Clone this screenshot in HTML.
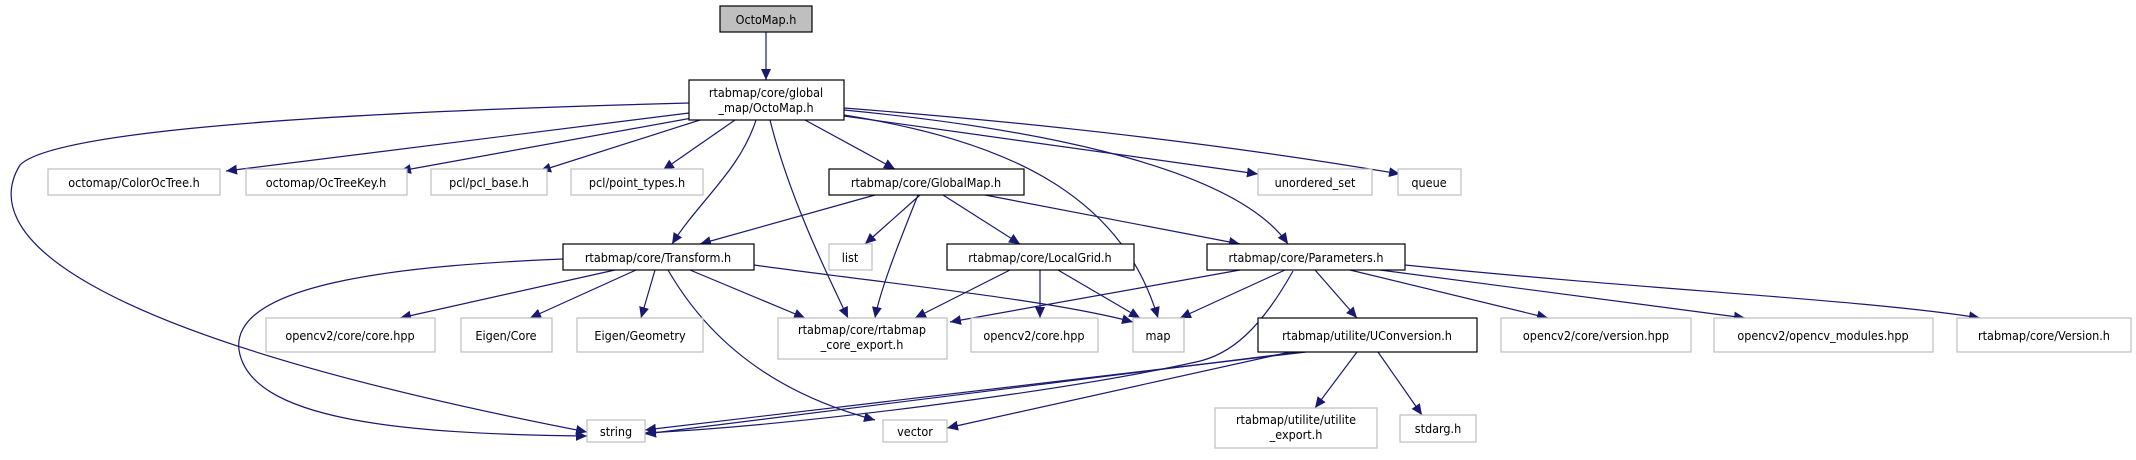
<!DOCTYPE html>
<html><head><meta charset="utf-8"><style>
html,body{margin:0;padding:0;background:#fff}
svg text{font-family:"DejaVu Sans Condensed","DejaVu Sans","Liberation Sans",sans-serif;font-size:12.5px;fill:#000;text-anchor:middle}
</style></head><body>
<svg width="2136" height="455" viewBox="0 0 2136 455" xmlns="http://www.w3.org/2000/svg">
<defs><marker id="a" markerWidth="12" markerHeight="10" refX="11" refY="5" orient="auto" markerUnits="userSpaceOnUse"><path d="M0,0 L11,5 L0,10 z" fill="#191970"/></marker></defs>
<g fill="none" stroke="#191970" stroke-width="1.2" marker-end="url(#a)">
<path d="M766,32 L766,80"/>
<path d="M689,103 C420,110 60,125 20,165 C-20,230 60,330 587,432"/>
<path d="M689,113 L226,171"/>
<path d="M692,118 L400,171"/>
<path d="M700,120 L540,171"/>
<path d="M735,120 L663,170"/>
<path d="M756,120 C740,170 700,200 672,244"/>
<path d="M770,120 C790,200 830,280 848,318"/>
<path d="M805,120 L895,169"/>
<path d="M844,115 C1000,140 1120,190 1158,318"/>
<path d="M844,116 L1258,174"/>
<path d="M844,108 C1000,120 1200,140 1400,174"/>
<path d="M844,110 C1000,125 1230,160 1288,244"/>
<path d="M875,195 L700,244"/>
<path d="M920,195 L865,244"/>
<path d="M918,195 C900,240 880,290 875,318"/>
<path d="M943,195 L1020,244"/>
<path d="M985,195 L1240,244"/>
<path d="M563,259 C420,265 230,280 239,350 C250,420 400,434 587,436"/>
<path d="M615,270 L400,318"/>
<path d="M636,270 L530,318"/>
<path d="M655,270 L641,318"/>
<path d="M668,270 C720,360 800,400 875,420"/>
<path d="M690,270 L805,318"/>
<path d="M754,265 C900,285 1050,300 1133,322"/>
<path d="M1010,270 L915,318"/>
<path d="M1040,270 L1040,318"/>
<path d="M1058,270 L1140,318"/>
<path d="M1240,270 L950,322"/>
<path d="M1285,270 L1180,318"/>
<path d="M1293,271 C1260,330 1230,355 1196,362 C1060,392 800,425 645,433"/>
<path d="M1315,270 L1357,318"/>
<path d="M1350,270 L1548,318"/>
<path d="M1380,270 L1745,318"/>
<path d="M1405,265 C1650,290 1870,300 1980,318"/>
<path d="M1306,352 L645,430"/>
<path d="M1300,352 L645,434"/>
<path d="M1290,352 L947,428"/>
<path d="M1357,352 L1315,408"/>
<path d="M1378,352 L1422,415"/>
</g>
<g stroke-width="1.2">
<rect x="720" y="6" width="92" height="26" fill="#bfbfbf" stroke="#000"/>
<rect x="689" y="80" width="155" height="40" fill="#fff" stroke="#000"/>
<rect x="829" y="169" width="195" height="26" fill="#fff" stroke="#000"/>
<rect x="563" y="244" width="191" height="26" fill="#fff" stroke="#000"/>
<rect x="947" y="244" width="187" height="26" fill="#fff" stroke="#000"/>
<rect x="1207" y="244" width="198" height="26" fill="#fff" stroke="#000"/>
<rect x="1258" y="318" width="219" height="34" fill="#fff" stroke="#000"/>
</g>
<g fill="#fff" stroke="#bfbfbf" stroke-width="1.2">
<rect x="48" y="169" width="172" height="26"/>
<rect x="246" y="169" width="161" height="26"/>
<rect x="431" y="169" width="116" height="26"/>
<rect x="571" y="169" width="132" height="26"/>
<rect x="1258" y="169" width="114" height="26"/>
<rect x="1398" y="169" width="63" height="26"/>
<rect x="829" y="244" width="43" height="26"/>
<rect x="266" y="318" width="169" height="34"/>
<rect x="461" y="318" width="91" height="34"/>
<rect x="577" y="318" width="126" height="34"/>
<rect x="778" y="318" width="169" height="41"/>
<rect x="971" y="318" width="127" height="34"/>
<rect x="1133" y="318" width="51" height="34"/>
<rect x="1501" y="318" width="190" height="34"/>
<rect x="1714" y="318" width="219" height="34"/>
<rect x="1957" y="318" width="174" height="34"/>
<rect x="587" y="420" width="58" height="22"/>
<rect x="883" y="420" width="64" height="22"/>
<rect x="1215" y="408" width="162" height="40"/>
<rect x="1400" y="415" width="76" height="27"/>
</g>
<text x="766" y="24">OctoMap.h</text>
<text x="766" y="97">rtabmap/core/global</text>
<text x="766" y="112">_map/OctoMap.h</text>
<text x="926" y="187">rtabmap/core/GlobalMap.h</text>
<text x="658" y="262">rtabmap/core/Transform.h</text>
<text x="1040" y="262">rtabmap/core/LocalGrid.h</text>
<text x="1306" y="262">rtabmap/core/Parameters.h</text>
<text x="1367" y="340">rtabmap/utilite/UConversion.h</text>
<text x="134" y="187">octomap/ColorOcTree.h</text>
<text x="326" y="187">octomap/OcTreeKey.h</text>
<text x="489" y="187">pcl/pcl_base.h</text>
<text x="637" y="187">pcl/point_types.h</text>
<text x="1315" y="187">unordered_set</text>
<text x="1429" y="187">queue</text>
<text x="850" y="262">list</text>
<text x="350" y="340">opencv2/core/core.hpp</text>
<text x="506" y="340">Eigen/Core</text>
<text x="640" y="340">Eigen/Geometry</text>
<text x="862" y="334">rtabmap/core/rtabmap</text>
<text x="862" y="349">_core_export.h</text>
<text x="1034" y="340">opencv2/core.hpp</text>
<text x="1158" y="340">map</text>
<text x="1596" y="340">opencv2/core/version.hpp</text>
<text x="1823" y="340">opencv2/opencv_modules.hpp</text>
<text x="2044" y="340">rtabmap/core/Version.h</text>
<text x="616" y="436">string</text>
<text x="915" y="436">vector</text>
<text x="1296" y="424">rtabmap/utilite/utilite</text>
<text x="1296" y="439">_export.h</text>
<text x="1438" y="433">stdarg.h</text>
</svg>
</body></html>
